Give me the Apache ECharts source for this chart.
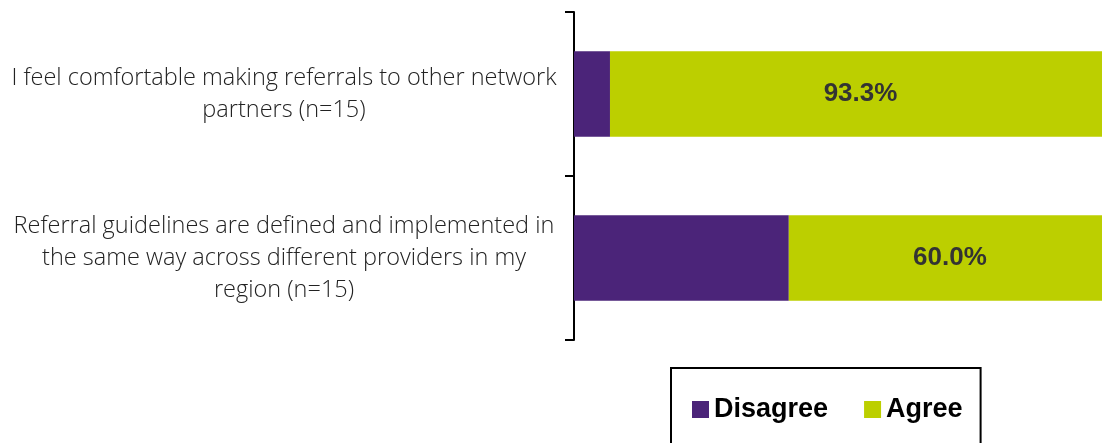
<!DOCTYPE html>
<html lang="en">
<head>
    <meta charset="UTF-8">
    <title>referrals</title>
    <script src="https://cdn.jsdelivr.net/npm/echarts@6/dist/echarts.min.js"></script>
    <style>
        * { margin: 0; padding: 0; }
        body { background: #fff; overflow: hidden; }
        #main { width: 1102px; height: 443px; }
    </style>
</head>
<body>
<div id="main"></div>
<script type="text/javascript">
    // 数据
    var categories = [
        'I feel comfortable making referrals to other network\npartners (n=15)',
        'Referral guidelines are defined and implemented in\nthe same way across different providers in my\nregion (n=15)'
    ];
    var seriesNames = ['Disagree', 'Agree'];
    var disagree = [6.7, 40.0];
    var agree = [93.3, 60.0];

    var myChart = echarts.init(document.getElementById('main'));
    var option = {
        animation: false,
        color: ['#4b2479', '#bccf00'],
        grid: {
            left: 574,
            width: 537,
            top: 12,
            bottom: 103,
            outerBoundsMode: 'none'
        },
        legend: {
            data: seriesNames,
            left: 671,
            top: 368,
            itemWidth: 17,
            itemHeight: 17,
            itemGap: 36,
            icon: 'rect',
            borderColor: '#000',
            borderWidth: 2,
            padding: [28, 18, 60, 21],
            textStyle: {
                color: '#000',
                fontFamily: 'Liberation Sans, Arial',
                fontWeight: 'bold',
                fontSize: 27
            }
        },
        xAxis: {
            type: 'value',
            min: 0,
            max: 100,
            show: false
        },
        yAxis: {
            type: 'category',
            inverse: true,
            data: categories,
            axisLine: { lineStyle: { color: '#000', width: 2 } },
            axisTick: { show: true, length: 9, lineStyle: { color: '#000', width: 2 } },
            axisLabel: {
                margin: 290,
                align: 'center',
                color: '#222',
                fontFamily: 'Open Sans',
                fontWeight: 300,
                fontSize: 23.5,
                lineHeight: 32
            }
        },
        series: [
            {
                name: seriesNames[0],
                type: 'bar',
                stack: 'total',
                barWidth: '52%',
                data: disagree
            },
            {
                name: seriesNames[1],
                type: 'bar',
                stack: 'total',
                data: agree,
                label: {
                    show: true,
                    position: 'inside',
                    color: '#333',
                    fontFamily: 'Liberation Sans, Arial',
                    fontWeight: 'bold',
                    fontSize: 26,
                    formatter: function (p) { return p.value.toFixed(1) + '%'; }
                }
            }
        ]
    };
    myChart.setOption(option);
</script>
</body>
</html>
